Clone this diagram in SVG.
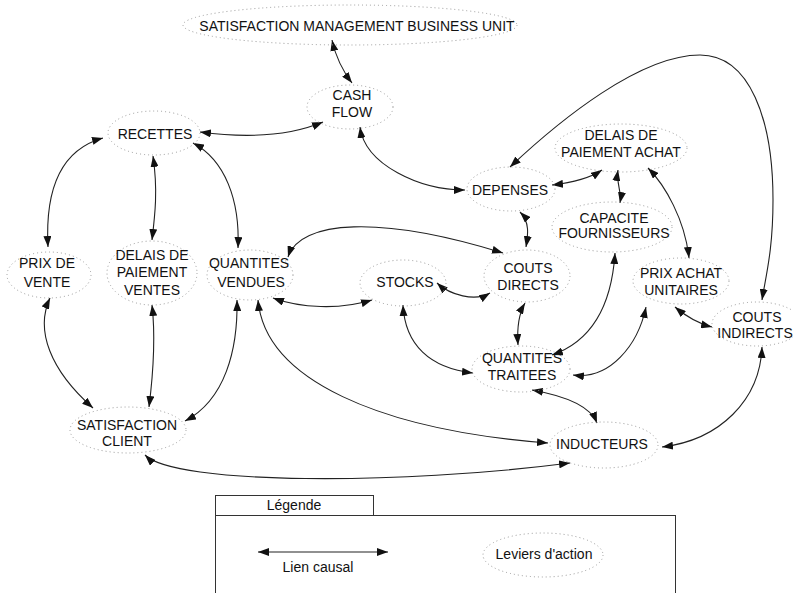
<svg xmlns="http://www.w3.org/2000/svg" width="793" height="593" viewBox="0 0 793 593">
<style>
.n ellipse{fill:none;stroke:#9a9a9a;stroke-width:1;stroke-dasharray:1 3}
text{font-family:"Liberation Sans",Arial,sans-serif;font-size:14px;fill:#111;text-anchor:middle}
.c path,.lg line{fill:none;stroke:#222;stroke-width:1.1;marker-start:url(#ah);marker-end:url(#ah)}
.box{fill:none;stroke:#333;stroke-width:1}
</style>
<defs>
<marker id="ah" markerUnits="userSpaceOnUse" markerWidth="11" markerHeight="8" refX="11" refY="4" orient="auto-start-reverse">
<path d="M0,0 L11,4 L0,8 z" fill="#111"/>
</marker>
</defs>
<rect width="793" height="593" fill="#fff"/>
<g class="c" id="connectors">
<path d="M332,40 C336,58 342,70 352,83"/>
<path d="M200,132 Q275,142 323,122"/>
<path d="M360,127 C365,165 420,190 465,190"/>
<path d="M103,138 C60,150 45,190 48,247"/>
<path d="M153,156 C158,190 155,215 152,240"/>
<path d="M193,143 C225,160 240,200 238,248"/>
<path d="M50,298 C35,330 50,370 93,408"/>
<path d="M152,305 C156,340 153,375 149,407"/>
<path d="M237,300 C238,350 225,400 185,421"/>
<path d="M258,300 C265,380 380,430 548,443"/>
<path d="M145,455 C175,485 400,485 570,463"/>
<path d="M273,298 C300,308 340,310 372,300"/>
<path d="M288,257 C300,220 380,215 503,253"/>
<path d="M437,283 C450,295 475,302 490,293"/>
<path d="M403,305 C405,345 430,368 473,373"/>
<path d="M520,212 C530,222 528,235 526,247"/>
<path d="M552,185 C570,183 590,178 602,170"/>
<path d="M618,170 C616,183 622,192 620,203"/>
<path d="M648,168 C665,185 685,220 689,258"/>
<path d="M510,167 C560,120 640,55 700,55 C750,55 773,120 773,200 C773,250 766,275 762,300"/>
<path d="M615,253 C612,300 595,340 552,355"/>
<path d="M646,307 C638,345 610,380 573,375"/>
<path d="M675,307 C688,318 700,324 712,327"/>
<path d="M525,303 C518,315 517,330 518,345"/>
<path d="M532,390 C560,395 590,405 597,423"/>
<path d="M762,347 C760,400 720,440 662,447"/>
</g>
<g class="n" id="smbu"><ellipse cx="350" cy="25" rx="167" ry="20"/><text x="357" y="31">SATISFACTION MANAGEMENT BUSINESS UNIT</text></g>
<g class="n" id="cashflow"><ellipse cx="350" cy="107" rx="43" ry="22"/><text x="352" y="100">CASH</text><text x="352" y="117">FLOW</text></g>
<g class="n" id="recettes"><ellipse cx="154" cy="133" rx="46" ry="22"/><text x="155" y="139">RECETTES</text></g>
<g class="n" id="prixvente"><ellipse cx="49" cy="275" rx="42" ry="23"/><text x="47" y="268">PRIX DE</text><text x="47" y="287">VENTE</text></g>
<g class="n" id="delaisventes"><ellipse cx="152" cy="273" rx="45" ry="32"/><text x="152" y="260">DELAIS DE</text><text x="152" y="277">PAIEMENT</text><text x="152" y="295">VENTES</text></g>
<g class="n" id="qvendues"><ellipse cx="250" cy="275" rx="43" ry="25"/><text x="249" y="268">QUANTITES</text><text x="251" y="287">VENDUES</text></g>
<g class="n" id="stocks"><ellipse cx="403" cy="283" rx="43" ry="23"/><text x="405" y="287">STOCKS</text></g>
<g class="n" id="coutsdirects"><ellipse cx="527" cy="276" rx="43" ry="26"/><text x="528" y="273">COUTS</text><text x="528" y="290">DIRECTS</text></g>
<g class="n" id="depenses"><ellipse cx="511" cy="189" rx="44" ry="22"/><text x="510" y="195">DEPENSES</text></g>
<g class="n" id="delaisachat"><ellipse cx="621" cy="148" rx="66" ry="24"/><text x="621" y="140">DELAIS DE</text><text x="621" y="157">PAIEMENT ACHAT</text></g>
<g class="n" id="capacite"><ellipse cx="612" cy="227" rx="60" ry="25"/><text x="614" y="223">CAPACITE</text><text x="614" y="238">FOURNISSEURS</text></g>
<g class="n" id="prixachat"><ellipse cx="681" cy="281" rx="48" ry="23"/><text x="681" y="278">PRIX ACHAT</text><text x="681" y="295">UNITAIRES</text></g>
<g class="n" id="coutsindirects"><ellipse cx="757" cy="324" rx="45" ry="22"/><text x="757" y="322">COUTS</text><text x="755" y="338">INDIRECTS</text></g>
<g class="n" id="qtraitees"><ellipse cx="521" cy="369" rx="49" ry="23"/><text x="522" y="363">QUANTITES</text><text x="522" y="380">TRAITEES</text></g>
<g class="n" id="inducteurs"><ellipse cx="604" cy="445" rx="54" ry="23"/><text x="602" y="449">INDUCTEURS</text></g>
<g class="n" id="satclient"><ellipse cx="128" cy="430" rx="58" ry="23"/><text x="127" y="430">SATISFACTION</text><text x="127" y="446">CLIENT</text></g>
<g id="legende">
<rect class="box" x="215.5" y="495.5" width="158" height="20"/>
<rect class="box" x="215.5" y="515.5" width="460" height="90"/>
<text x="294" y="510">Légende</text>
<g class="lg"><line x1="258" y1="552" x2="388" y2="552"/></g>
<text x="318" y="572">Lien causal</text>
<g class="n"><ellipse cx="543" cy="555" rx="60" ry="22"/><text x="544" y="559">Leviers d'action</text></g>
</g>
</svg>
